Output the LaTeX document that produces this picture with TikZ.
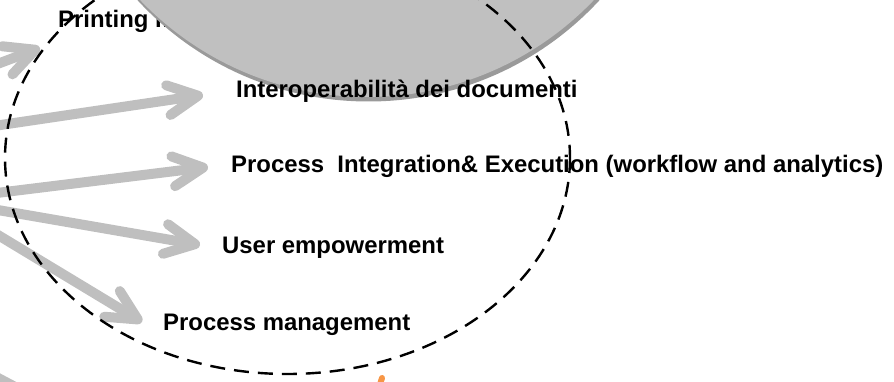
\documentclass[tikz,border=0pt]{standalone}
\usepackage{fontspec}
\setmainfont{Liberation Sans}
\usetikzlibrary{arrows.meta}
\definecolor{arrowgray}{HTML}{BFBFBF}
\definecolor{circfill}{HTML}{C0C0C0}
\definecolor{circrim}{HTML}{9A9A9A}
\definecolor{orangeac}{HTML}{F79646}
\begin{document}
\begin{tikzpicture}[x=1pt,y=-1pt,
  lbl/.style={anchor=base west, inner sep=0pt, font=\fontsize{23.9}{28}\selectfont\bfseries},
  garrow/.style={draw=arrowgray, line width=10pt, line cap=round,
    -{Straight Barb[length=30pt,width=30pt,round]}},
  gline/.style={draw=arrowgray, line width=10pt},
  oline/.style={draw=orangeac, line width=6pt, line cap=round},
  bigcircle/.style={circle, minimum size=628pt, inner sep=0pt},
  dashring/.style={draw=black, line width=2.4pt, dash pattern=on 15pt off 9pt}
]
\useasboundingbox (0,0) rectangle (894,382);
\clip (0,0) rectangle (894,382);

% hidden label behind the grey circle
\node[lbl] (printing) at (58,28) {Printing management};

% grey circle with shadow
\node[bigcircle, fill=circrim] (cshadow) at (368.5,-212.5) {};
\node[bigcircle, fill=circfill] (circ) at (367,-217) {};

% labels
\node[lbl] (interop) at (236,98) {Interoperabilità dei documenti};
\node[lbl] (procint) at (231,173) {Process\ \ Integration\& Execution (workflow and analytics)};
\node[lbl] (user) at (222,253) {User empowerment};
\node[lbl] (procman) at (163,330) {Process management};

% arrow coordinates
\coordinate (s1) at (-40,78);
\coordinate (t1) at (40,48);
\coordinate (s2) at (-60,134);
\coordinate (t2) at (203,95);
\coordinate (src) at (-60,200);
\coordinate (t3) at (208,167);
\coordinate (t4) at (200,245);
\coordinate (t5) at (142,322);
\coordinate (b1) at (-20,368.4);
\coordinate (b2) at (40,400.2);
\coordinate (o1) at (382,378);
\coordinate (o2) at (377,394);

\draw[garrow] (s1) -- (t1);
\draw[garrow] (s2) -- (t2);
\draw[garrow] (src) -- (t3);
\draw[garrow] (src) -- (t4);
\draw[garrow] (src) -- (t5);
\draw[gline] (b1) -- (b2);
\draw[oline] (o1) -- (o2);

% dashed ellipse
\draw[dashring] (287.5,158) ellipse [x radius=282.5, y radius=216];
\end{tikzpicture}
\end{document}
